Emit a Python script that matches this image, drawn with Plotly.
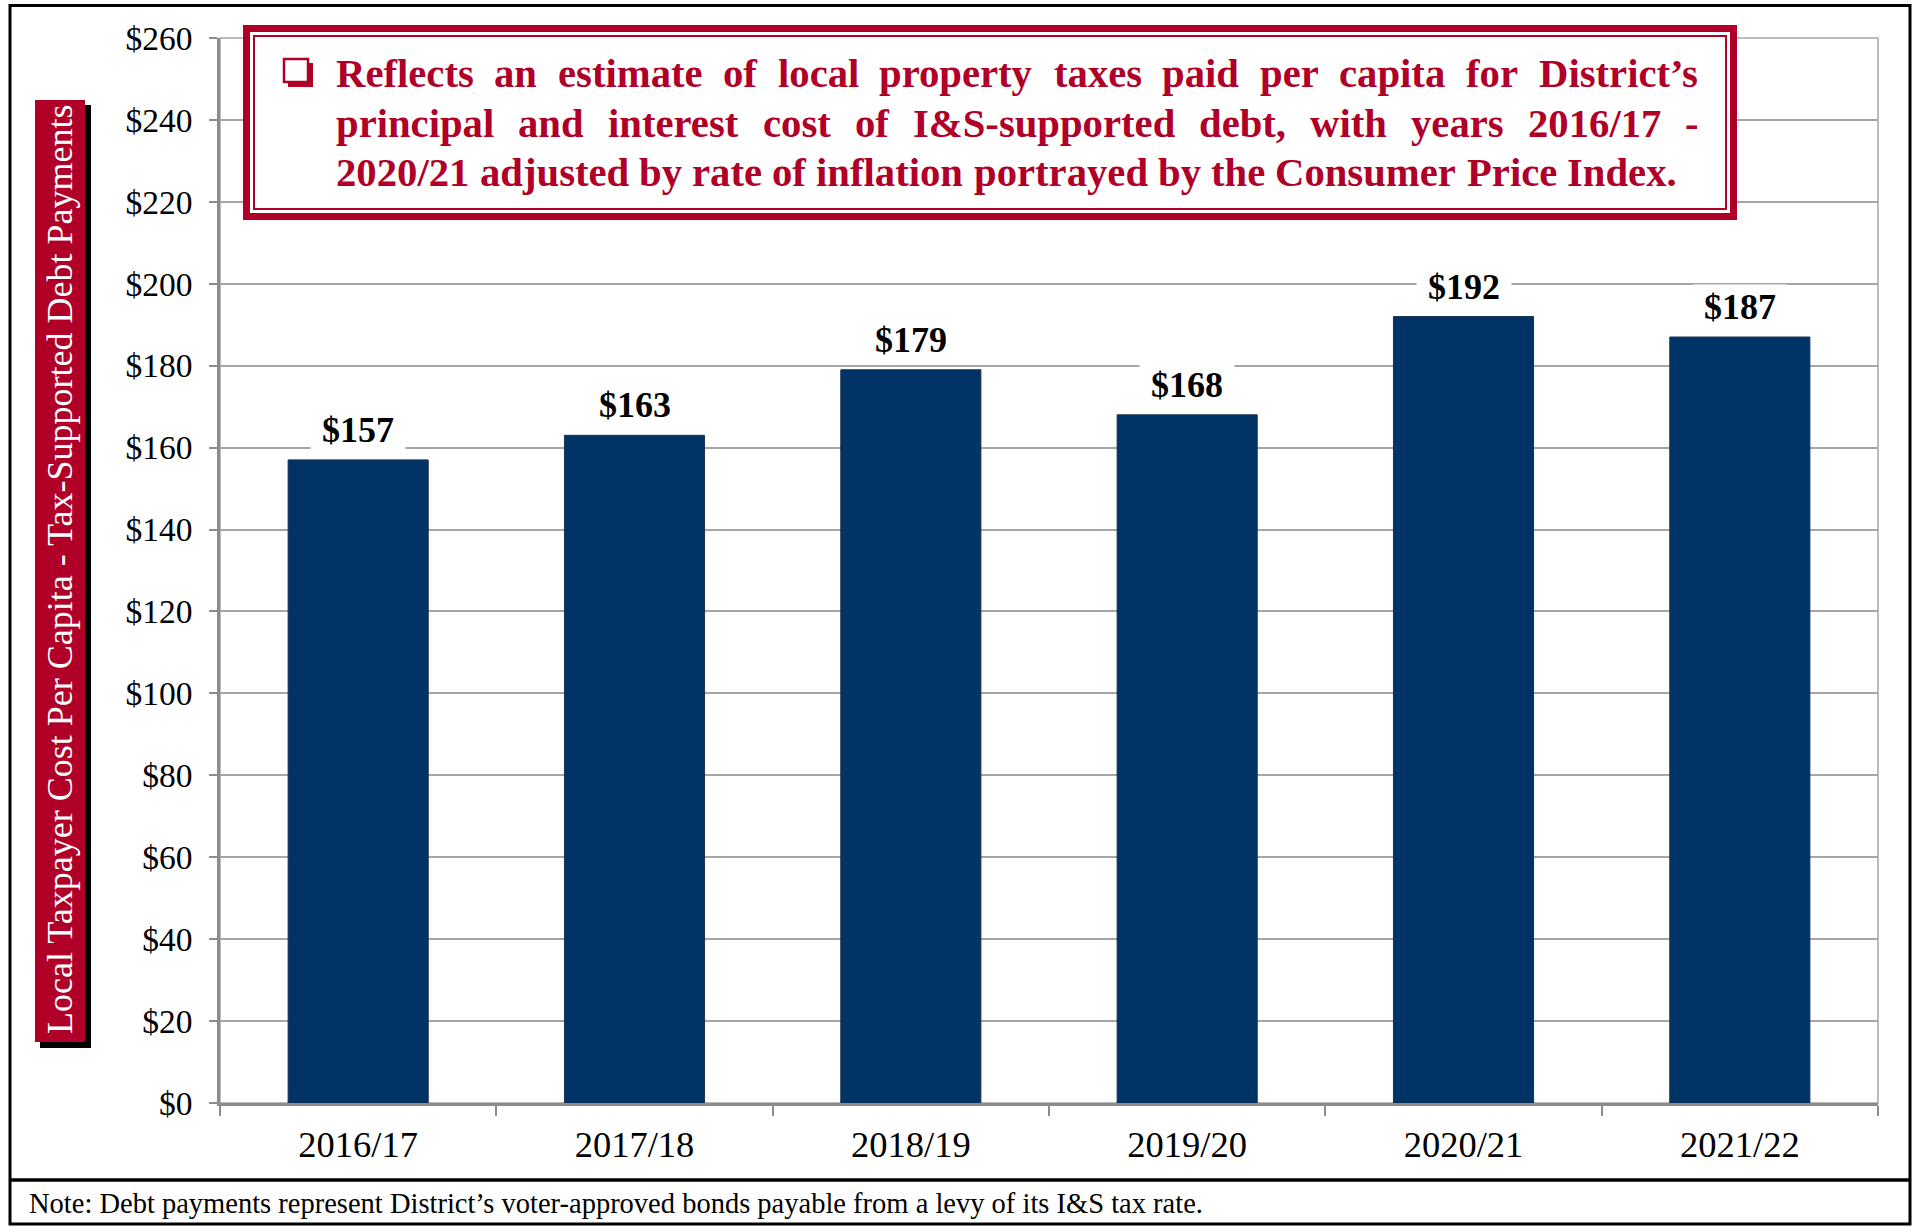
import plotly.graph_objects as go

# ---------------- data ----------------
categories = ["2016/17", "2017/18", "2018/19", "2019/20", "2020/21", "2021/22"]
values = [157, 163, 179, 168, 192, 187]
value_labels = ["$157", "$163", "$179", "$168", "$192", "$187"]
y_tick_values = [0, 20, 40, 60, 80, 100, 120, 140, 160, 180, 200, 220, 240, 260]
y_tick_labels = ["$0", "$20", "$40", "$60", "$80", "$100", "$120", "$140", "$160",
                 "$180", "$200", "$220", "$240", "$260"]

y_title = "Local Taxpayer Cost Per Capita - Tax-Supported Debt Payments"
note_text = ("Note: Debt payments represent District\u2019s voter-approved bonds payable "
             "from a levy of its I&S tax rate.")
box_lines = [
    "Reflects an estimate of local property taxes paid per capita for District\u2019s",
    "principal and interest cost of I&S-supported debt, with years 2016/17 -",
    "2020/21 adjusted by rate of inflation portrayed by the Consumer Price Index.",
]

# ---------------- layout helpers ----------------
W, H = 1915, 1227
L, R, T, B = 220, 1878, 38, 1103
SERIF = "Liberation Serif, Times New Roman, serif"
RED = "#B00028"
NAVY = "#003366"


def px(x):
    return (x - L) / (R - L)


def py(y):
    return (B - y) / (B - T)


# Times-Bold advance widths (per 1000 em) used to justify the note box text
TB = {'R': 722, 'e': 444, 'f': 333, 'l': 278, 'c': 444, 't': 333, 's': 389, 'a': 500,
      'n': 556, 'm': 833, 'o': 500, 'p': 556, 'r': 444, 'y': 500, 'x': 500, 'i': 278,
      'd': 556, 'D': 722, '\u2019': 333, 'I': 389, '&': 833, 'S': 556, '-': 333,
      'u': 556, 'b': 556, ',': 250, 'w': 722, 'h': 556, 'j': 333, 'C': 722, 'P': 611,
      '.': 250, '/': 278, 'g': 500, 'v': 500, 'k': 556}
for d in "0123456789":
    TB[d] = 500


def word_w(w, fs):
    return sum(TB.get(ch, 500) for ch in w) * fs / 1000.0


fig = go.Figure()
fig.add_trace(go.Bar(
    x=categories, y=values,
    marker=dict(color=NAVY, line=dict(color="#1C3050", width=1)),
    hoverinfo="skip",
))

annotations = []
# value labels
for c, v, lab in zip(categories, values, value_labels):
    annotations.append(dict(
        x=c, y=v, xref="x", yref="y", text="\u00a0" + lab + "\u00a0",
        showarrow=False, yanchor="middle", yshift=30,
        font=dict(family=SERIF, size=36, color="black", weight="bold"),
        bgcolor="white", borderpad=2,
    ))

# justified box text
FS = 40.7
text_left, text_right = 335, 1698
line_centers = [74, 123, 172]
for li, (line, yc) in enumerate(zip(box_lines, line_centers)):
    words = line.split(" ")
    widths = [word_w(w, FS) for w in words]
    if li < len(box_lines) - 1:
        gap = (text_right - text_left - sum(widths)) / (len(words) - 1)
    else:
        gap = 250 * FS / 1000.0
    xcur = text_left
    for w, ww in zip(words, widths):
        annotations.append(dict(
            x=px(xcur), y=py(yc), xref="paper", yref="paper", text=w,
            showarrow=False, xanchor="left", yanchor="middle",
            font=dict(family=SERIF, size=FS, color=RED, weight="bold"),
            borderpad=0,
        ))
        xcur += ww + gap

# y-axis title (white on red box)
annotations.append(dict(
    x=px(60), y=py(570), xref="paper", yref="paper", text=y_title,
    showarrow=False, textangle=-90, xanchor="center", yanchor="middle",
    font=dict(family=SERIF, size=36, color="white"),
))

# note
annotations.append(dict(
    x=px(27), y=py(1203), xref="paper", yref="paper", text=note_text,
    showarrow=False, xanchor="left", yanchor="middle",
    font=dict(family=SERIF, size=28.5, color="black"),
))

shapes = [
    # plot frame (right/top)
    dict(type="rect", xref="paper", yref="paper", x0=0, x1=1, y0=0, y1=1,
         line=dict(color="#A6A6A6", width=1.5), layer="below"),
    # outer border
    dict(type="rect", xref="paper", yref="paper", x0=px(10), x1=px(1910),
         y0=py(5.5), y1=py(1224), line=dict(color="black", width=3)),
    # separator line above note
    dict(type="line", xref="paper", yref="paper", x0=px(10), x1=px(1910),
         y0=py(1180), y1=py(1180), line=dict(color="black", width=3.5)),
    # y title shadow and box
    dict(type="rect", xref="paper", yref="paper", x0=px(40), x1=px(91),
         y0=py(105), y1=py(1048), fillcolor="black", line=dict(width=0)),
    dict(type="rect", xref="paper", yref="paper", x0=px(35), x1=px(85),
         y0=py(100), y1=py(1042), fillcolor=RED, line=dict(width=0)),
    # note box: thick outer border + thin inner border
    dict(type="rect", xref="paper", yref="paper", x0=px(246.5), x1=px(1733.5),
         y0=py(28.5), y1=py(216.5), fillcolor="white", line=dict(color=RED, width=7)),
    dict(type="rect", xref="paper", yref="paper", x0=px(254), x1=px(1726),
         y0=py(36), y1=py(209), line=dict(color=RED, width=2)),
    # checkbox glyph (drop-shadowed square)
    dict(type="rect", xref="paper", yref="paper", x0=px(288), x1=px(313),
         y0=py(63), y1=py(87), fillcolor=RED, line=dict(width=0)),
    dict(type="rect", xref="paper", yref="paper", x0=px(284), x1=px(308),
         y0=py(59), y1=py(82), fillcolor="white", line=dict(color=RED, width=2.5)),
]

fig.update_layout(
    width=W, height=H,
    margin=dict(l=L, r=W - R, t=T, b=H - B, pad=0),
    paper_bgcolor="white", plot_bgcolor="white",
    showlegend=False,
    bargap=0.493,
    font=dict(family=SERIF, color="black"),
    annotations=annotations,
    shapes=shapes,
    xaxis=dict(
        type="category", categoryorder="array", categoryarray=categories,
        showline=True, linecolor="#8C8C8C", linewidth=3,
        ticks="outside", tickson="boundaries", ticklen=10, tickwidth=2,
        tickcolor="#8C8C8C", showgrid=False,
        tickfont=dict(family=SERIF, size=36.5, color="black"),
        ticklabelstandoff=7,
    ),
    yaxis=dict(
        range=[0, 260], tickvals=y_tick_values, ticktext=y_tick_labels,
        showline=True, linecolor="#8C8C8C", linewidth=2.5,
        ticks="outside", ticklen=8, tickwidth=2, tickcolor="#8C8C8C",
        showgrid=True, gridcolor="#A6A6A6", gridwidth=1.5, zeroline=False,
        tickfont=dict(family=SERIF, size=33.5, color="black"),
        ticklabelstandoff=10,
    ),
)

fig.write_html(
    "out.html",
    config={"displayModeBar": False},
    post_script="document.body.style.margin='0px';document.body.style.overflow='hidden';",
)
